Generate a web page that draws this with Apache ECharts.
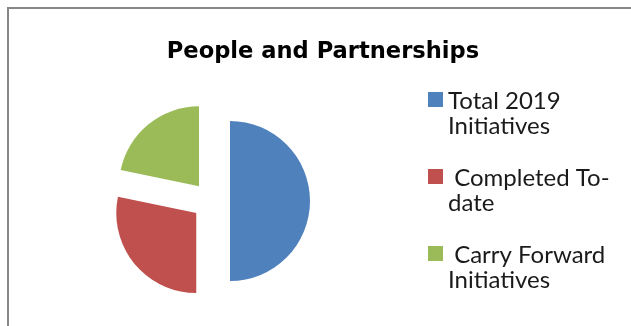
<!DOCTYPE html>
<html>
<head>
<meta charset="utf-8">
<script src="https://cdn.jsdelivr.net/npm/echarts@6/dist/echarts.min.js"></script>
<style>
  html, body { margin: 0; padding: 0; background: #ffffff; }
  #chart { width: 631px; height: 326px; }
</style>
</head>
<body>
<div id="chart"></div>
<script>
// Initiative counts for the People and Partnerships area
const categories = ['Total 2019 Initiatives', ' Completed To-date', ' Carry Forward Initiatives'];
const legendText = ['Total 2019\nInitiatives', ' Completed To-\ndate', ' Carry Forward\nInitiatives'];
const values = [23, 13, 10];
const colors = ['#4F81BD', '#C0504D', '#9BBB59'];

const font = 'Lato';

// Legend marker: a square beside the first text line; the tiny end points
// stretch the path's bounds to the full height of the two-line label.
const markerPath = 'path://M0,0h0.01M0,3h15v15h-15zM0,50h0.01';

const chart = echarts.init(document.getElementById('chart'), null, { renderer: 'canvas' });

chart.setOption({
  animation: false,
  backgroundColor: '#ffffff',
  title: {
    text: 'People and Partnerships',
    left: 318,
    textAlign: 'center',
    top: 36,
    textStyle: { fontFamily: 'DejaVu Sans', fontWeight: 'bold', fontSize: 22.6, color: '#000000' }
  },
  legend: {
    orient: 'vertical',
    left: 428,
    top: 89,
    padding: 0,
    itemWidth: 15,
    itemHeight: 50,
    itemGap: 27,
    icon: markerPath,
    selectedMode: false,
    data: categories,
    formatter: name => legendText[categories.indexOf(name)],
    textStyle: {
      fontFamily: font,
      fontSize: 24,
      lineHeight: 25,
      color: '#1a1a1a'
    }
  },
  graphic: [{
    type: 'rect',
    silent: true,
    shape: { x: 8, y: 8, width: 700, height: 400 },
    style: { fill: 'none', stroke: '#878787', lineWidth: 2 }
  }],
  series: [{
    type: 'pie',
    center: [211, 201],
    radius: 80,
    startAngle: 90,
    clockwise: true,
    selectedMode: 'multiple',
    selectedOffset: 19,
    label: { show: false },
    labelLine: { show: false },
    emphasis: { disabled: true },
    itemStyle: { borderWidth: 0 },
    data: categories.map((name, i) => ({
      name: name,
      value: values[i],
      selected: true,
      itemStyle: { color: colors[i] }
    }))
  }]
});
</script>
</body>
</html>
